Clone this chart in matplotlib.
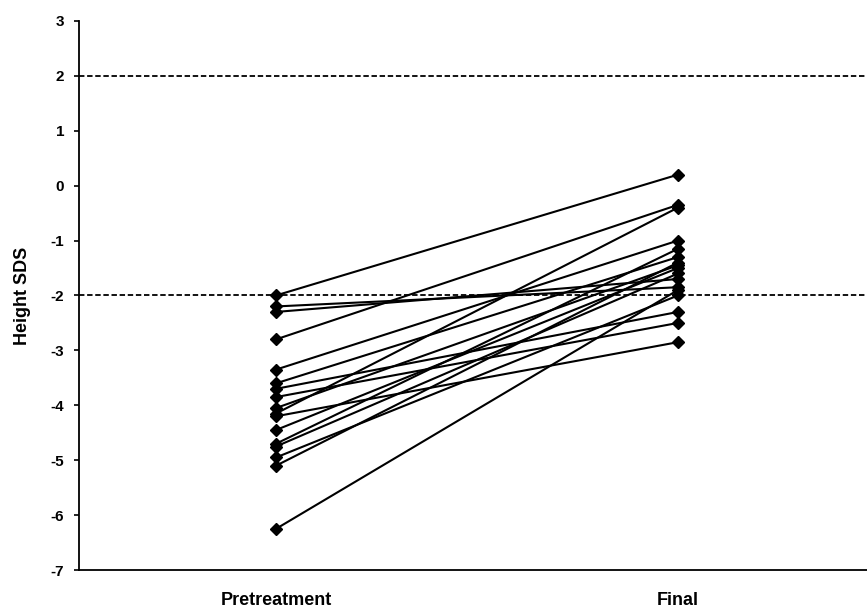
import numpy as np
import matplotlib.pyplot as plt

plt.rcParams['font.family'] = ['Liberation Sans', 'DejaVu Sans']
plt.rcParams['axes.unicode_minus'] = False

# Height SDS per patient: pretreatment -> final
pretreatment = [-2.0, -2.2, -2.3, -2.8, -3.35, -3.6, -3.7, -3.85, -4.05,
                -4.15, -4.2, -4.45, -4.7, -4.75, -4.95, -5.1, -6.25]
final = [0.2, -1.85, -1.7, -0.35, -1.0, -1.3, -2.3, -2.5, -1.45,
         -0.4, -2.85, -1.5, -1.15, -1.6, -2.0, -1.4, -1.9]
categories = ['Pretreatment', 'Final']
ref_lines = [2, -2]

fig = plt.figure(figsize=(8.67, 6.13), dpi=100)
ax = fig.add_axes([0.091, 0.07, 0.909, 0.896])

for p, f in zip(pretreatment, final):
    ax.plot([0, 1], [p, f], color='black', linewidth=1.5,
            marker='D', markersize=6.5, markerfacecolor='black',
            markeredgecolor='black')

for y in ref_lines:
    ax.axhline(y, color='black', linewidth=1.3, linestyle=(0, (3, 1.5)), zorder=1)

ax.set_xlim(-0.49, 1.47)
ax.set_ylim(-7, 3)
ax.set_yticks(np.arange(-7, 4, 1))
ax.set_xticks([0, 1])
ax.set_xticklabels(categories, fontsize=13, fontweight='bold')
ax.tick_params(axis='x', length=0, pad=16)
ax.tick_params(axis='y', direction='out', length=3.5, width=1.2, labelsize=11, pad=7)
for lab in ax.get_yticklabels():
    lab.set_fontweight('bold')

ax.set_ylabel('Height SDS', fontsize=13, fontweight='bold', labelpad=14)
ax.spines['top'].set_visible(False)
ax.spines['right'].set_visible(False)
ax.spines['left'].set_linewidth(1.3)
ax.spines['bottom'].set_linewidth(1.3)

fig.savefig('out.png', dpi=100)
